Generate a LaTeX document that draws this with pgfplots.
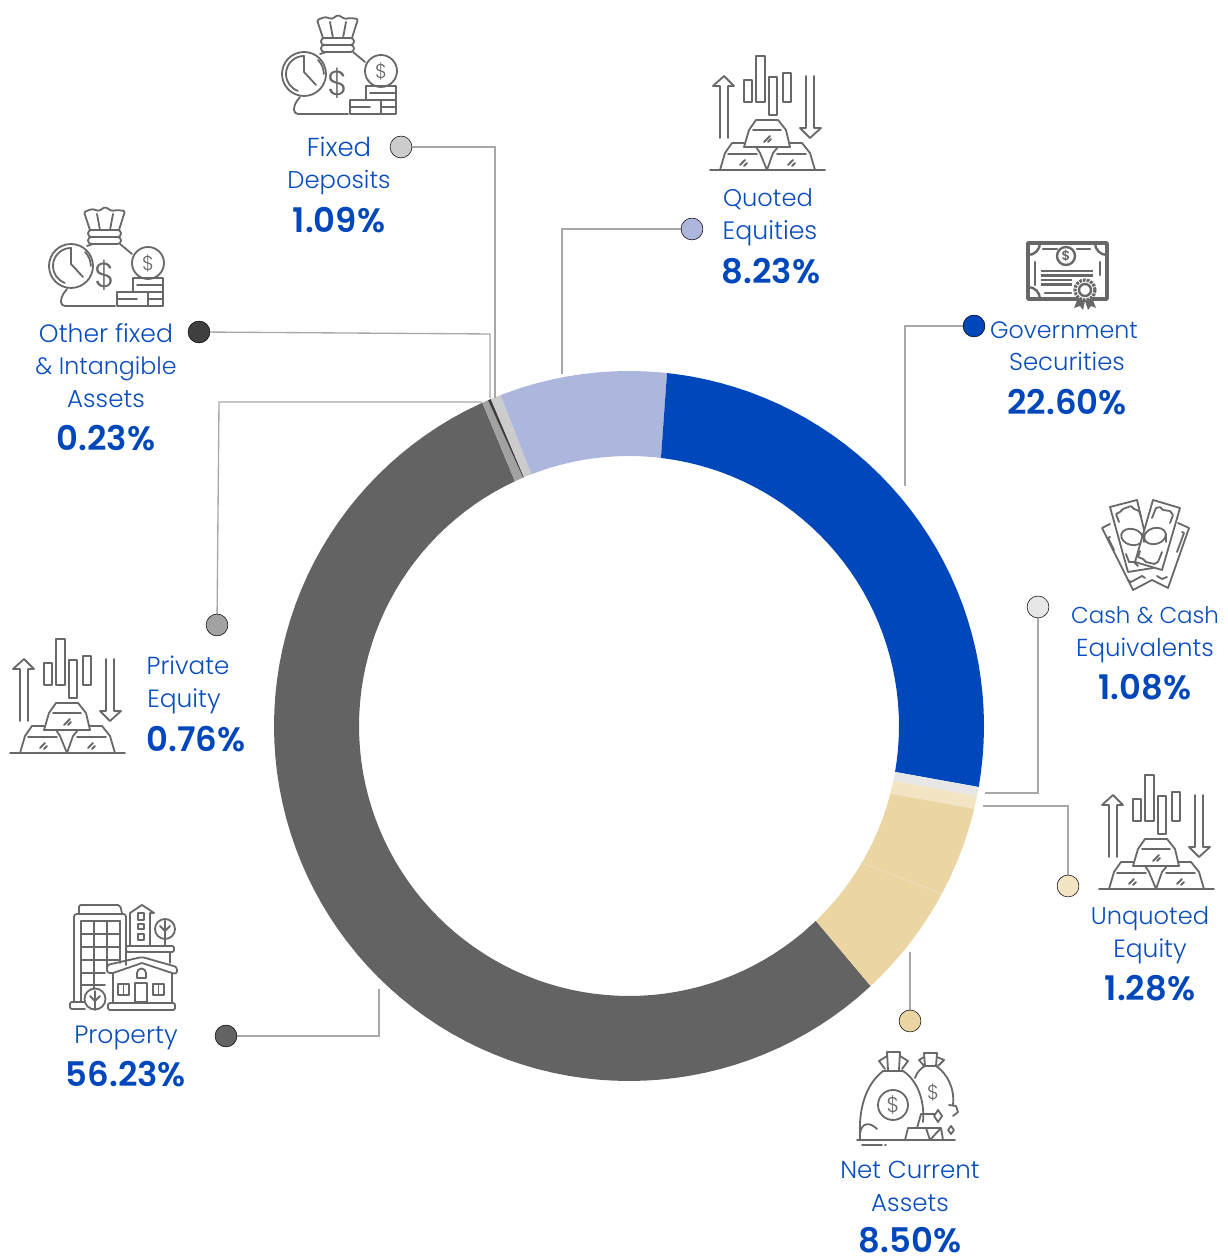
\documentclass[border=0pt]{standalone}
\usepackage{fontspec}
\setmainfont{Poppins}[UprightFont=* Light,BoldFont=* SemiBold]
\usepackage{pgfplots}
\pgfplotsset{compat=1.18}
\definecolor{blu}{HTML}{0047BB}
\definecolor{txt}{HTML}{0A4DBC}
\definecolor{cFD}{HTML}{CCCCCC}
\definecolor{cQE}{HTML}{ADB6DC}
\definecolor{cCA}{HTML}{E7E7E7}
\definecolor{cUQ}{HTML}{F3E4C3}
\definecolor{cNC}{HTML}{EAD5A3}
\definecolor{cPR}{HTML}{636363}
\definecolor{cPE}{HTML}{A2A2A2}
\definecolor{cOT}{HTML}{3F3F3F}
\definecolor{ldr}{HTML}{A8A8A8}
\definecolor{ic}{HTML}{686868}
\newcommand{\lab}[4][18.6]{\node[anchor=base,text=txt,inner sep=0pt,yshift=-0.75pt,font=\fontsize{#1}{20}\selectfont] at (#2,#3) {#4};}
\newcommand{\val}[3]{\node[anchor=base,text=blu,inner sep=0pt,yshift=-0.5pt,font=\fontsize{25.4}{26}\bfseries] at (#1,#2) {#3};}
\newcommand{\dol}[3]{\node[text=ic,inner sep=0pt,font=\fontsize{#3}{#3}\selectfont] at (#1,#2) {\$};}
\newcommand{\iconbag}{%
 \draw[rounded corners=1pt] (53,38)--(47,20)--(55,17)--(62,19)--(68,15)--(75,19)--(80,18)--(88,19)--(82,38);
 \draw (60,22)--(63,38) (76,22)--(73,38);
 \draw[rounded corners=2.5pt] (51,38) rectangle (84,45) (51,45) rectangle (84,52);
 \draw (50,54)--(56,52) (83,52)--(95,62);
 \draw[rounded corners=3pt] (30,97)--(24,105)--(24,114)--(78,114);
 \draw (34,74) circle (22);
 \draw (34,56) arc (-90:-250:18);
 \draw (34,56)--(34,72)--(46,85) (48,60) arc (-45:0:19.8);
 \dol{68}{83}{26}
 \draw (111,71) circle (16); \dol{111}{71}{15}
 \draw (96,100)--(96,86)--(126,86)--(126,114)--(80,114)--(80,100)--(111,100)--(111,114);
 \draw (100,93)--(126,93) (111,100)--(126,100) (111,107)--(126,107) (80,107)--(100,107);
}
\newcommand{\icongold}{%
 \draw (30,98)--(30,46)--(23,46)--(34,36)--(44,46)--(38,46)--(38,98);
 \draw (54,40) rectangle (62,62) (66,16) rectangle (75,62) (79,37) rectangle (87,75) (93,33) rectangle (101,62);
 \draw (116,36)--(116,88)--(110,88)--(120,98)--(131,88)--(124,88)--(124,36);
 \draw (54,107)--(59,90)--(66,80)--(88,80)--(96,90)--(100,107)--cycle;
 \draw (63,90)--(91,90) (74,102)--(80,96) (78,102)--(81,99);
 \draw (30,130)--(35,113)--(42,103)--(54,103);
 \draw (38,114)--(67,114) (50,125)--(55,120) (54,126)--(57,123);
 \draw (70,113)--(77,130)--(83,113)--(88,107) (100,103)--(112,103)--(120,113)--(125,130);
 \draw (87,114)--(116,114) (98,125)--(103,120) (102,126)--(105,123);
 \draw (66,107)--(70,113);
 \draw (20,130)--(135,130);
}
\begin{document}
\begin{tikzpicture}
\useasboundingbox (0,0) rectangle (921pt,942.75pt);
\begin{axis}[at={(0,0)},anchor=south west,scale only axis,width=921pt,height=942.75pt,
  xmin=-629,xmax=599,ymin=-531,ymax=726,hide axis,clip=false]
% donut: (angle in degrees, radius)
\addplot[fill=cPR,draw=none,mark=none,data cs=polar] coordinates {
 (114.4,355)(117.5,355)(120,355)(122.5,355)(125,355)(127.5,355)(130,355)(132.5,355)(135,355)(137.5,355)(140,355)(142.5,355)(145,355)(147.5,355)(150,355)(152.5,355)(155,355)(157.5,355)(160,355)(162.5,355)(165,355)(167.5,355)(170,355)(172.5,355)(175,355)(177.5,355)(180,355)
 (182.5,355)(185,355)(187.5,355)(190,355)(192.5,355)(195,355)(197.5,355)(200,355)(202.5,355)(205,355)(207.5,355)(210,355)(212.5,355)(215,355)(217.5,355)(220,355)(222.5,355)(225,355)(227.5,355)(230,355)(232.5,355)(235,355)(237.5,355)(240,355)(242.5,355)(245,355)(247.5,355)(250,355)
 (252.5,355)(255,355)(257.5,355)(260,355)(262.5,355)(265,355)(267.5,355)(270,355)(272.5,355)(275,355)(277.5,355)(280,355)(282.5,355)(285,355)(287.5,355)(290,355)(292.5,355)(295,355)(297.5,355)(300,355)(302.5,355)(305,355)(307.5,355)(310,355)(312.9,355)
 (313.8,270)(310,270)(307.5,270)(305,270)(302.5,270)(300,270)(297.5,270)(295,270)(292.5,270)(290,270)(287.5,270)(285,270)(282.5,270)(280,270)(277.5,270)(275,270)(272.5,270)(270,270)(267.5,270)(265,270)(262.5,270)(260,270)(257.5,270)(255,270)(252.5,270)
 (250,270)(247.5,270)(245,270)(242.5,270)(240,270)(237.5,270)(235,270)(232.5,270)(230,270)(227.5,270)(225,270)(222.5,270)(220,270)(217.5,270)(215,270)(212.5,270)(210,270)(207.5,270)(205,270)(202.5,270)(200,270)(197.5,270)(195,270)(192.5,270)(190,270)(187.5,270)
 (185,270)(182.5,270)(180,270)(177.5,270)(175,270)(172.5,270)(170,270)(167.5,270)(165,270)(162.5,270)(160,270)(157.5,270)(155,270)(152.5,270)(150,270)(147.5,270)(145,270)(142.5,270)(140,270)(137.5,270)(135,270)(132.5,270)(130,270)(127.5,270)(125,270)(122.5,270)(120,270)(117.5,270)(115,270)};
\addplot[fill=cPE,draw=none,mark=none,data cs=polar] coordinates {(114.4,355)(113.4,355)(113.1,270)(115,270)};
\addplot[fill=cOT,draw=none,mark=none,data cs=polar] coordinates {(113.4,355)(112.9,355)(112.9,270)(113.1,270)};
\addplot[fill=cFD,draw=none,mark=none,data cs=polar] coordinates {(112.9,355)(111.2,355)(111.2,270)(112.9,270)};
\addplot[fill=cQE,draw=none,mark=none,data cs=polar] coordinates {
 (111.2,355)(107.5,355)(105,355)(102.5,355)(100,355)(97.5,355)(95,355)(92.5,355)(90,355)(87.5,355)(85,355)(83.85,355)(83.2,270)(85,270)(87.5,270)(90,270)(92.5,270)(95,270)(97.5,270)(100,270)(102.5,270)(105,270)(107.5,270)(111.2,270)};
\addplot[fill=blu,draw=none,mark=none,data cs=polar] coordinates {
 (83.85,355)(82.5,355)(80,355)(77.5,355)(75,355)(72.5,355)(70,355)(67.5,355)(65,355)(62.5,355)(60,355)(57.5,355)(55,355)(52.5,355)(50,355)(47.5,355)(45,355)(42.5,355)(40,355)(37.5,355)(35,355)(32.5,355)(30,355)(27.5,355)(25,355)(22.5,355)(20,355)(17.5,355)(15,355)(12.5,355)(10,355)(7.5,355)(5,355)(2.5,355)(0,355)(-2.5,355)(-5,355)(-7.5,355)(-9.9,355)
 (-9.8,270)(-7.5,270)(-5,270)(-2.5,270)(0,270)(2.5,270)(5,270)(7.5,270)(10,270)(12.5,270)(15,270)(17.5,270)(20,270)(22.5,270)(25,270)(27.5,270)(30,270)(32.5,270)(35,270)(37.5,270)(40,270)(42.5,270)(45,270)(47.5,270)(50,270)(52.5,270)(55,270)(57.5,270)(60,270)(62.5,270)(65,270)(67.5,270)(70,270)(72.5,270)(75,270)(77.5,270)(80,270)(83.2,270)};
\addplot[fill=cCA,draw=none,mark=none,data cs=polar] coordinates {(-9.9,355)(-11.4,355)(-11.7,270)(-9.8,270)};
\addplot[fill=cUQ,draw=none,mark=none,data cs=polar] coordinates {(-11.4,355)(-13.5,355)(-14.5,270)(-11.7,270)};
\addplot[fill=cNC,draw=none,mark=none,data cs=polar] coordinates {
 (-13.5,355)(-15,355)(-17.5,355)(-20,355)(-22.5,355)(-25,355)(-27.5,355)(-30,355)(-32.5,355)(-35,355)(-37.5,355)(-40,355)(-42.5,355)(-45,355)(-47.1,355)
 (-46.2,270)(-45,270)(-42.5,270)(-40,270)(-37.5,270)(-35,270)(-32.5,270)(-30,270)(-27.5,270)(-25,270)(-22.5,270)(-20,270)(-17.5,270)(-15,270)(-14.5,270)};
\addplot[draw=cUQ,line width=0.4pt,mark=none] coordinates {(313,-168)(234,-137)};
% leaders
\addplot[draw=ldr,line width=1pt,mark=none] coordinates {(-228,579)(-134,579)(-134,328)};
\addplot[draw=ldr,line width=1pt,mark=none] coordinates {(63,497)(-67,497)(-67,352)};
\addplot[draw=ldr,line width=1pt,mark=none] coordinates {(345,400)(276,400)(276,240)};
\addplot[draw=ldr,line width=1pt,mark=none] coordinates {(409,119)(409,-67)(356,-67)};
\addplot[draw=ldr,line width=1pt,mark=none] coordinates {(439,-160)(439,-80)(354,-80)};
\addplot[draw=ldr,line width=1pt,mark=none] coordinates {(281,-295)(281,-226)};
\addplot[draw=ldr,line width=1pt,mark=none] coordinates {(-403,-310)(-250,-310)(-250,-263)};
\addplot[draw=ldr,line width=1pt,mark=none] coordinates {(-412,101)(-410,324)(-147,324)};
\addplot[draw=ldr,line width=1pt,mark=none] coordinates {(-430,394)(-139,392)(-139,328)};
% dots
\addplot[only marks,mark=*,mark size=8.2pt,mark options={draw=none,fill=cFD}] coordinates {(-228,579)};
\addplot[only marks,mark=*,mark size=8.2pt,mark options={draw=none,fill=cQE}] coordinates {(63,497)};
\addplot[only marks,mark=*,mark size=8.2pt,mark options={draw=none,fill=blu}] coordinates {(345,400)};
\addplot[only marks,mark=*,mark size=8.2pt,mark options={draw=none,fill=cCA}] coordinates {(409,119)};
\addplot[only marks,mark=*,mark size=8.2pt,mark options={draw=none,fill=cUQ}] coordinates {(439,-160)};
\addplot[only marks,mark=*,mark size=8.2pt,mark options={draw=none,fill=cNC}] coordinates {(281,-295)};
\addplot[only marks,mark=*,mark size=8.2pt,mark options={draw=none,fill=cPR}] coordinates {(-403,-310)};
\addplot[only marks,mark=*,mark size=8.2pt,mark options={draw=none,fill=cPE}] coordinates {(-412,101)};
\addplot[only marks,mark=*,mark size=8.2pt,mark options={draw=none,fill=cOT}] coordinates {(-430,394)};
\end{axis}
\begin{scope}[x=0.75pt,y=-0.75pt,yshift=942.75pt]
\lab[19.5]{339}{156}{Fixed}\lab[18.2]{339}{188}{Deposits}\val{339}{232}{1.09\%}
\lab[18.1]{768}{206}{Quoted}\lab[18.9]{770}{239}{Equities}\val{771}{283}{8.23\%}
\lab[17.8]{1064}{338}{Government}\lab[18.3]{1067}{370}{Securities}\val{1067}{414}{22.60\%}
\lab[17.2]{1145}{623}{Cash \& Cash}\lab[18.4]{1145}{656}{Equivalents}\val{1145}{699}{1.08\%}
\lab[18.1]{1150}{924}{Unquoted}\lab[18.7]{1150}{957}{Equity}\val{1150}{1000}{1.28\%}
\lab[18.4]{910}{1178}{Net Current}\lab[18.4]{910}{1211}{Assets}\val{910}{1251.5}{8.50\%}
\lab[18.8]{126}{1043}{Property}\val{126}{1086}{56.23\%}
\lab[18.5]{188}{674}{Private}\lab[18.7]{184}{707}{Equity}\val{196}{751}{0.76\%}
\lab[18.8]{106}{342}{Other fixed}\lab[17.8]{106}{374}{\& Intangible}\lab[18.4]{106}{407}{Assets}\val{106}{450}{0.23\%}
\begin{scope}[draw=ic,line width=1.35pt,line cap=round,line join=round]
\begin{scope}[shift={(270,0)}]\iconbag\end{scope}
\begin{scope}[shift={(37,192)}]\iconbag\end{scope}
\begin{scope}[shift={(690,40)}]\icongold\end{scope}
\begin{scope}[shift={(-10,623)}]\icongold\end{scope}
\begin{scope}[shift={(1079,759)}]\icongold\end{scope}
% certificate
\begin{scope}[shift={(1010,230)},line width=1.8pt]
 \draw[line width=2.6pt,line cap=butt] (18,13) rectangle (97,69);
 \draw (18,25) arc (270:360:12 and -12) (97,25) arc (270:180:12 and -12);
 \draw (18,57) arc (90:0:12 and -12);
 \draw (33,19)--(47,19) (67,19)--(80,19) (25,32)--(25,55) (90,32)--(90,45) (35,63)--(61,63);
 \draw (56,26) circle (9); \node[text=ic,inner sep=0pt,font=\fontsize{10}{10}\bfseries] at (56,26) {\$};
 \draw[line width=2pt,line cap=butt] (31,41)--(83,41) (31,45.5)--(83,45.5) (31,50)--(62,50) (31,54.5)--(62,54.5);
 \fill[ic] (68,68)--(64,78)--(70,76)--(73,80)--(75,71)--(78,80)--(81,76)--(86,78)--(82,68)--cycle;
 \draw[fill=white,dash pattern=on 2pt off 0.8pt,line width=2.4pt,line cap=butt] (75,60) circle (10);
 \draw (75,60) circle (6);
\end{scope}
% cash
\begin{scope}[shift={(1090,490)}]
 \draw (20,34)--(12,38)--(43,100)--(62,90)--(78,98)--(99,38)--(88,33);
 \draw (20,47)--(18,48)--(24,60) (92,42)--(94,43)--(87,62) (38,90)--(41,92)--(52,86)--(55,88) (67,86)--(72,89)--(77,87);
 \draw[fill=white] (20,17)--(47,10)--(63,78)--(38,82)--cycle;
 \draw[rounded corners=0.5pt] (29,32)--(26,24)--(30,22)--(33,19)--(41,16)--(44,19)--(49,21)--(51,27);
 \draw (36,64)--(39,72)--(44,72)--(48,76) (51,68)--(54,73);
 \draw[rotate around={-15:(42,47)}] (42,47) ellipse (11 and 8);
 \draw[fill=white] (63,10)--(90,18)--(72,80)--(45,72)--cycle;
 \draw[rounded corners=0.5pt] (62,28)--(66,18)--(70,17)--(73,20)--(80,21)--(83,25)--(80,33);
 \draw (50,61)--(48,67)--(53,69)--(56,72)--(64,74)--(68,72)--(72,62);
 \draw[rotate around={15:(65,46)}] (65,46) ellipse (11 and 8);
 \draw (54,44)--(54,52) (76,44)--(76,52);
\end{scope}
% property
\begin{scope}[shift={(60,895)}]
 \draw[rounded corners=1.5pt] (19,18)--(19,10)--(60,10)--(62,18);
 \draw[rounded corners=2pt] (14,106)--(14,19)--(66,19)--(66,70);
 \draw (21,26)--(21,106) (34,26)--(34,95) (47,26)--(47,75) (60,26)--(60,68);
 \draw (21,26)--(60,26) (21,39)--(60,39) (21,52)--(60,52) (21,65)--(60,65) (21,78)--(45,78) (21,90)--(45,90);
 \draw[rounded corners=1.5pt] (25,107)--(10,107)--(10,114)--(25,114);
 \draw (70,50)--(70,18)--(82,10)--(94,18)--(90,18)--(90,50);
 \draw (78,18) rectangle (84,25) (78,29) rectangle (84,34) (78,39) rectangle (84,45);
 \draw (105,34) circle (10) (105,26)--(105,50) (105,36)--(100,31) (105,36)--(110,31);
 \draw[rounded corners=1.5pt] (66,51) rectangle (114,57);
 \draw (110,57)--(110,68) (66,57)--(66,68);
 \draw[rounded corners=2pt] (53,78)--(47,78)--(47,70)--(82,62)--(117,72)--(117,79)--(112,78);
 \draw (53,78)--(82,68)--(112,78);
 \draw (53,78)--(53,107) (112,78)--(112,107);
 \draw (75,88) rectangle (87,107) (58,89) rectangle (69,100) (93,89) rectangle (104,100) (63.5,89)--(63.5,100) (98.5,89)--(98.5,100);
 \draw (77,83)--(77,78) arc (180:360:4.5)--(86,83)--cycle;
 \draw[rounded corners=1.5pt] (48,108) rectangle (115,115);
 \draw[fill=white] (35,104) circle (10.5) (35,96)--(35,115) (35,106)--(30,101) (35,106)--(40,101);
\end{scope}
% net current
\begin{scope}[shift={(845,1040)}]
 \draw (43,30)--(42,12)--(55,12)--(54,30) (42,16)--(34,21)--(40,29) (55,16)--(63,21)--(57,29);
 \draw (38,31)--(58,31);
 \draw (38,31) .. controls (20,45) and (14,70) .. (15,93);
 \draw (58,31) .. controls (72,40) and (80,60) .. (78,82);
 \draw (15,100)--(15,93) .. controls (17,82) and (25,82) .. (32,89);
 \draw (48,65) circle (15); \dol{48}{65}{16}
 \draw (80,26)--(79,13)--(92,13)--(91,26) (79,17)--(74,20)--(79,26) (92,17)--(99,20)--(93,26);
 \draw (70,38) .. controls (72,32) and (76,28) .. (80,26)--(91,26) .. controls (103,34) and (110,50) .. (108,65);
 \dol{88}{52}{15}
 \draw (104,65)--(111,66)--(113,72)--(108,76);
 \draw (72,88)--(76,74)--(90,74) (60,100)--(63,88)--(96,88)--(98,100) (96,88)--(85,100)--(81,88);
 \draw (93,70)--(97,76)--(93,82)--(89,76)--cycle (106,86)--(109,90)--(106,94)--(103,90)--cycle;
 \draw (12,100)--(110,100) (17,105)--(37,105) (40,105)--(41,105);
\end{scope}
\end{scope}
\end{scope}
\end{tikzpicture}
\end{document}
